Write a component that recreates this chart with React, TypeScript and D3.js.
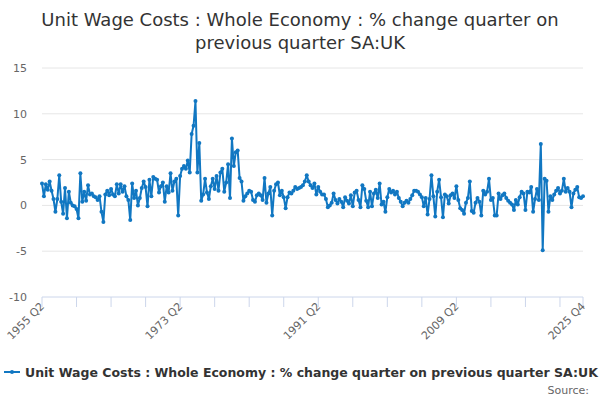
import React from 'react'
import * as d3 from 'd3'

// Quarterly series, starting 1955 Q2
const startYear = 1955
const startQuarter = 2

const values: number[] = [
  2.4, 1.0, 2.3, 1.7, 2.6, 1.6, 0.7, -0.7, 0.7, 3.3,
  0.4, -0.9, 1.9, -1.4, 1.5, 0.3, 0.0, -0.1, -0.4, -1.4,
  3.5, 0.4, 1.5, 0.5, 2.2, 1.2, 1.3, 1.0, 0.9, 0.6,
  1.0, -0.7, -1.8, 1.2, 1.6, 1.1, 1.8, 1.2, 1.0, 2.3,
  1.3, 2.3, 1.5, 2.1, 1.0, 0.6, -1.6, 2.4, 0.8, 1.6,
  0.0, 0.8, 1.9, 2.6, 2.0, -0.1, 2.8, 1.0, 3.1, 2.9,
  2.8, 1.4, 2.1, 2.5, 0.4, 2.1, 1.4, 3.5, 1.6, 2.6,
  2.9, -1.1, 3.2, 4.0, 4.3, 4.0, 4.9, 3.6, 7.8, 8.7,
  11.4, 3.6, 6.8, 0.5, 1.2, 2.9, 1.4, 0.7, 2.1, 2.9,
  1.8, 3.2, 1.6, 3.6, 4.0, 1.5, 2.5, 4.5, 0.8, 7.3,
  4.3, 5.8, 6.0, 3.0, 2.6, 0.5, 1.0, 1.3, 1.6, 1.5,
  0.6, 0.4, 1.1, 1.3, 1.1, 0.6, 3.0, 0.3, 1.3, 2.0,
  -1.1, 1.6, 2.3, 2.5, 1.1, 1.6, 0.9, -0.3, 0.9, 1.4,
  1.3, 1.6, 2.0, 1.8, 1.9, 2.0, 2.2, 2.6, 3.3, 2.6,
  2.2, 1.9, 2.4, 1.2, 2.0, 1.5, 1.2, 1.2, 0.7, -0.2,
  0.0, 0.3, 1.3, 0.6, 0.2, 0.7, 0.4, -0.2, 0.9, 0.5,
  0.2, 1.1, -0.1, 1.4, 1.6, 0.6, -0.2, 2.2, 1.8, 0.5,
  -0.2, 1.5, -0.1, 1.3, 1.7, 0.8, 2.4, 0.1, 0.4, -0.7,
  0.9, 1.8, 1.4, 1.6, 1.2, 1.5, 0.8, 0.4, -0.1, 0.3,
  0.5, 0.3, 0.7, 1.1, 1.6, 1.6, 1.5, 1.2, 0.9, -0.1,
  0.8, -1.0, 0.7, 3.3, 1.0, -1.2, 1.5, 2.8, 0.9, -1.3,
  1.2, 1.0, 0.2, 1.1, 1.3, 0.8, 2.1, 0.6, -0.3, -0.5,
  -0.9, 0.3, 0.8, 2.6, -0.6, -0.8, 0.3, 0.8, 0.4, -1.1,
  1.6, 1.2, 1.5, 2.9, 0.6, 0.8, -1.1, -1.1, 1.3, 0.7,
  1.1, 1.3, 0.8, 0.5, 0.3, 0.1, -0.5, 0.6, 0.1, 0.9,
  1.5, 1.3, -0.5, 1.5, 1.4, 2.0, -0.7, 0.7, 1.8, 0.6,
  6.7, -4.9, 2.9, 2.7, -0.7, 1.0, 0.6, 1.2, 1.6, 1.9,
  1.3, 1.6, 2.9, 1.5, 1.9, 1.5, -0.2, 1.3, 1.7, 2.0,
  0.9, 0.8, 1.0,
]

const categories: string[] = values.map((_, i) => {
  const q = startQuarter - 1 + i
  return `${startYear + Math.floor(q / 4)} Q${(q % 4) + 1}`
})

const yTicks = [-10, -5, 0, 5, 10, 15]
const tickLabels = ['1955 Q2', '1973 Q2', '1991 Q2', '2009 Q2', '2025 Q4']
const seriesName = 'Unit Wage Costs : Whole Economy : % change quarter on previous quarter SA:UK'

const width = 600
const height = 400
const margin = { top: 68, right: 17, bottom: 103, left: 42 }
const lineColor = '#1177c2'
const font = '"DejaVu Sans", sans-serif'

export default function App() {
  const x = d3.scaleLinear()
    .domain([0, values.length - 1])
    .range([margin.left, width - margin.right])
  const y = d3.scaleLinear()
    .domain([-10, 15])
    .range([height - margin.bottom, margin.top])

  const line = d3.line<number>()
    .x((_, i) => x(i))
    .y(d => y(d))

  // tick every 18 quarters plus the last category
  const tickIdx = d3.range(0, values.length, 18)
  if (tickIdx[tickIdx.length - 1] !== values.length - 1) tickIdx.push(values.length - 1)
  const labelIdx = tickLabels.map(l => categories.indexOf(l))

  const axisY = y(-10)

  return (
    <svg width={width} height={height} style={{ position: 'absolute', left: 0, top: 0, fontFamily: font }}>
      <rect width={width} height={height} fill="#fff" />
      <text x={300} y={26} textAnchor="middle" fontSize={18} fill="#333">
        Unit Wage Costs : Whole Economy : % change quarter on
      </text>
      <text x={300} y={49} textAnchor="middle" fontSize={18} fill="#333">
        previous quarter SA:UK
      </text>

      {yTicks.map(t => (
        <g key={t}>
          {t !== -10 && (
            <line x1={margin.left} x2={width - margin.right} y1={y(t)} y2={y(t)} stroke="#e6e6e6" />
          )}
          <text x={27} y={y(t) + 4} textAnchor="end" fontSize={11} fill="#666">{t}</text>
        </g>
      ))}

      <line x1={margin.left} x2={width - margin.right} y1={axisY} y2={axisY} stroke="#ccd6eb" />
      {tickIdx.map(i => (
        <line key={i} x1={x(i)} x2={x(i)} y1={axisY} y2={axisY + 10} stroke="#ccd6eb" />
      ))}
      {labelIdx.map(i => (
        <text key={i} transform={`translate(${x(i) + 3},${axisY + 10}) rotate(-45)`}
          textAnchor="end" fontSize={11} fill="#666">
          {categories[i]}
        </text>
      ))}

      <path d={line(values) || ''} fill="none" stroke={lineColor} strokeWidth={2} strokeLinejoin="round" />
      {values.map((v, i) => (
        <circle key={i} cx={x(i)} cy={y(v)} r={2} fill={lineColor} />
      ))}

      <g transform="translate(0,372)">
        <line x1={4} x2={20} y1={0} y2={0} stroke={lineColor} strokeWidth={2} />
        <circle cx={12} cy={0} r={2} fill={lineColor} />
        <text x={25} y={4.5} fontSize={12.5} fontWeight="bold" fill="#333">{seriesName}</text>
      </g>
      <text x={589} y={394} textAnchor="end" fontSize={11} fill="#666">Source:</text>
    </svg>
  )
}
